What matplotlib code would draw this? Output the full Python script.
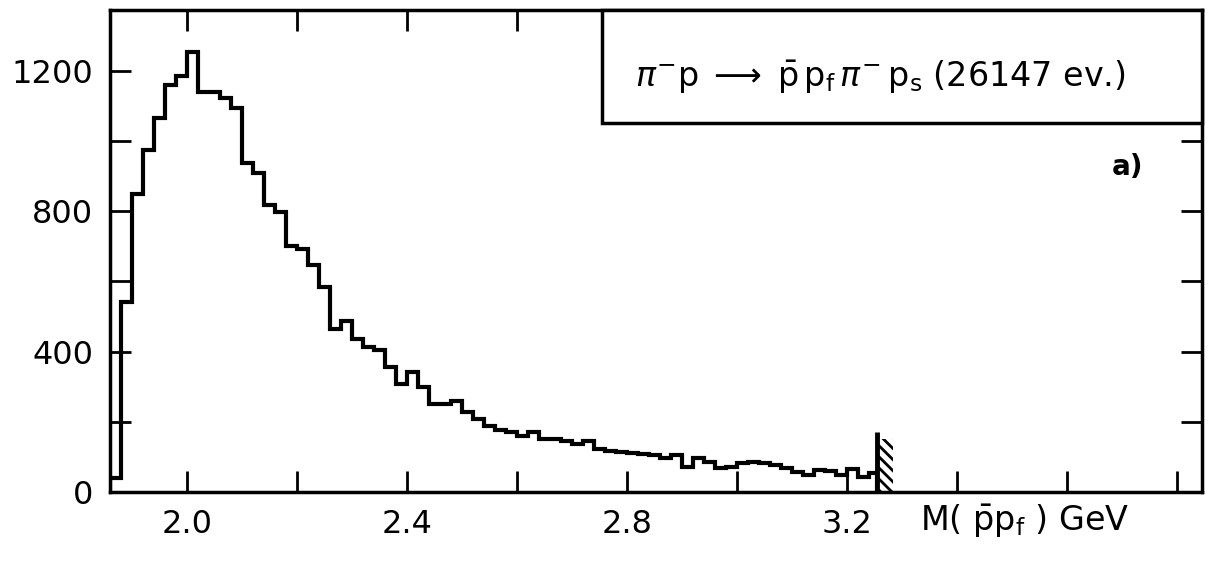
import matplotlib
matplotlib.use("Agg")
import matplotlib.pyplot as plt
from matplotlib.patches import Rectangle
import numpy as np

plt.rcParams['mathtext.fontset'] = 'dejavusans'

# M(pbar p_f) histogram, 0.02 GeV bins starting at 1.86 GeV
bin_start = 1.86
bin_width = 0.02
counts = [40, 540, 850, 975, 1066, 1160, 1186, 1254, 1140, 1140,
          1123, 1095, 938, 910, 819, 799, 700, 691, 648, 583,
          463, 486, 435, 412, 405, 355, 307, 341, 299, 250,
          250, 259, 227, 208, 188, 176, 170, 160, 172, 152,
          150, 146, 137, 145, 122, 118, 114, 111, 108, 104,
          96, 104, 72, 96, 86, 68, 72, 82, 85, 82,
          76, 68, 58, 48, 62, 60, 48, 66, 42, 55]
threshold = 3.255          # kinematic limit marker
threshold_height = 170

xticks = [2.0, 2.2, 2.4, 2.6, 2.8, 3.0, 3.2, 3.4, 3.6, 3.8]
xticklabels = ['2.0', '', '2.4', '', '2.8', '', '3.2', '', '', '']
yticks = [0, 200, 400, 600, 800, 1000, 1200]
yticklabels = ['0', '', '400', '', '800', '', '1200']

edges = bin_start + bin_width * np.arange(len(counts) + 1)
edges[-1] = threshold

fig = plt.figure(figsize=(12.15, 5.65), dpi=100)
ax = fig.add_axes([0.0905, 0.1292, 0.8988, 0.853])

ax.stairs(counts, edges, baseline=0, color='k', lw=3)
ax.vlines(threshold, 0, threshold_height, color='k', lw=3.5)
plt.rcParams['hatch.linewidth'] = 2.0
ax.add_patch(Rectangle((threshold, 0), 0.028, 150, fill=False,
                       edgecolor='k', lw=0, hatch='\\\\\\'))

ax.set_xlim(1.86, 3.845)
ax.set_ylim(0, 1373)
ax.set_xticks(xticks)
ax.set_xticklabels(xticklabels)
ax.set_yticks(yticks)
ax.set_yticklabels(yticklabels)
ax.tick_params(axis='both', direction='in', length=15, width=2,
               labelsize=23, pad=12, top=True, right=True)
for s in ax.spines.values():
    s.set_linewidth(2.5)

# reaction box in the top right corner
ax.add_patch(Rectangle((0.4505, 0.7656), 0.5495, 0.2344, transform=ax.transAxes,
                       facecolor='white', edgecolor='k', lw=2.5, zorder=3,
                       clip_on=False))
ax.text(0.705, 0.862,
        r'$\pi^{-}\mathrm{p}\;\longrightarrow\;\bar{\mathrm{p}}\,\mathrm{p}_{\mathrm{f}}\,'
        r'\pi^{-}\,\mathrm{p}_{\mathrm{s}}$ (26147 ev.)',
        transform=ax.transAxes, ha='center', va='center', fontsize=24, zorder=4)
ax.text(0.932, 0.674, 'a)', transform=ax.transAxes, ha='center', va='center',
        fontsize=20, fontweight='bold')

fig.text(920 / 1215, 0.062, r'M( $\bar{\mathrm{p}}\mathrm{p}_{\mathrm{f}}$ ) GeV',
         ha='left', va='baseline', fontsize=24)

fig.savefig('out.png', dpi=100)
